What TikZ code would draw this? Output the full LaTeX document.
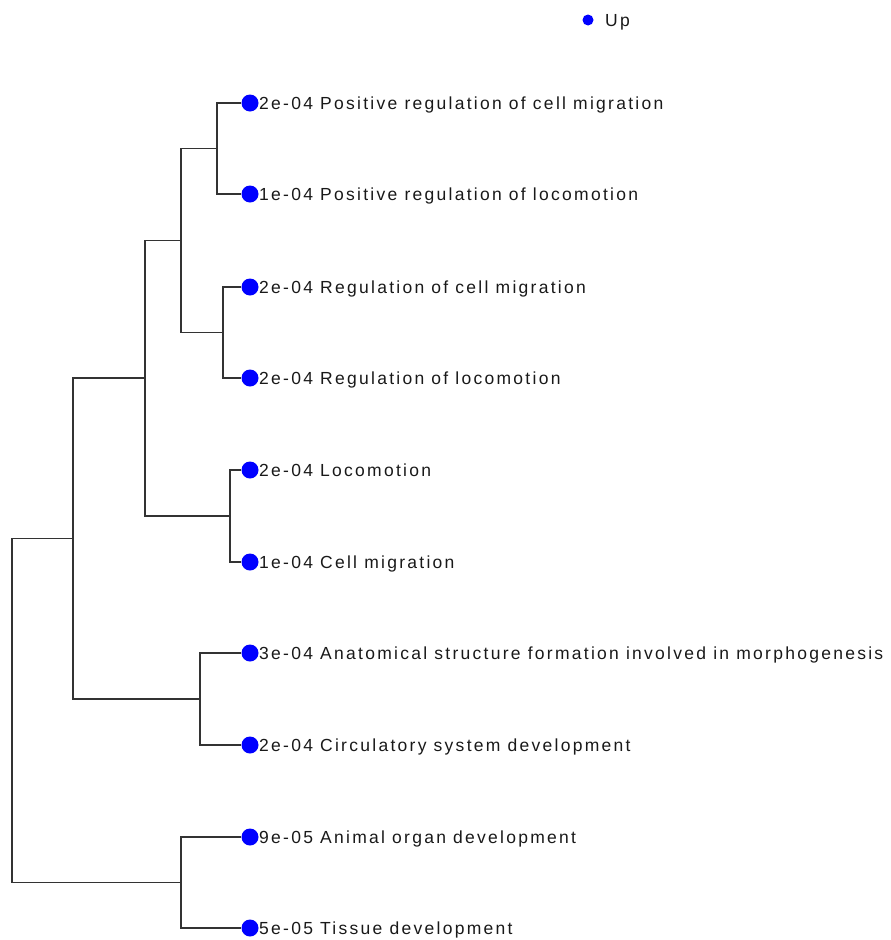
\documentclass[tikz,border=0pt]{standalone}
\usepackage{fontspec}
\setmainfont{Liberation Sans}[LetterSpace=13]
\begin{document}
\begin{tikzpicture}[x=1pt,y=-1pt,
  leaf/.style={circle,fill=blue,draw=none,minimum size=17pt,inner sep=0pt},
  lab/.style={anchor=base west,inner sep=0pt,font=\fontsize{17.5}{20}\selectfont,text=black!90},
  branch/.style={draw=black!80,line width=1.3pt}]
\useasboundingbox (0,0) rectangle (891,940);

% leaves with their labels
\foreach \n/\y/\t in {
  1/103/{2e-04 Positive regulation of cell migration},
  2/194/{1e-04 Positive regulation of locomotion},
  3/287/{2e-04 Regulation of cell migration},
  4/378/{2e-04 Regulation of locomotion},
  5/470/{2e-04 Locomotion},
  6/562/{1e-04 Cell migration},
  7/653/{3e-04 Anatomical structure formation involved in morphogenesis},
  8/745/{2e-04 Circulatory system development},
  9/837/{9e-05 Animal organ development},
  10/928/{5e-05 Tissue development}}{
  \node[leaf] (L\n) at (250,\y) {};
  \node[lab] (T\n) at (259,\y+6) {\t};
}

% inner branching points
\coordinate (a) at (217,148.5);
\coordinate (b) at (223,332.5);
\coordinate (c) at (181,240.5);
\coordinate (d) at (230,516);
\coordinate (e) at (145,378);
\coordinate (f) at (200,699);
\coordinate (g) at (73,538.5);
\coordinate (h) at (181,882.5);
\coordinate (r) at (12,710);

% tree branches
\draw[branch] (L1) -| (a) |- (L2);
\draw[branch] (L3) -| (b) |- (L4);
\draw[branch] (a) -| (c) |- (b);
\draw[branch] (L5) -| (d) |- (L6);
\draw[branch] (c) -| (e) |- (d);
\draw[branch] (L7) -| (f) |- (L8);
\draw[branch] (e) -| (g) |- (f);
\draw[branch] (L9) -| (h) |- (L10);
\draw[branch] (g) -| (r) |- (h);

% legend
\node[circle,fill=blue,minimum size=11pt,inner sep=0pt] (key) at (588,20) {};
\node[lab] (keytext) at (605,26) {Up};
\end{tikzpicture}
\end{document}
